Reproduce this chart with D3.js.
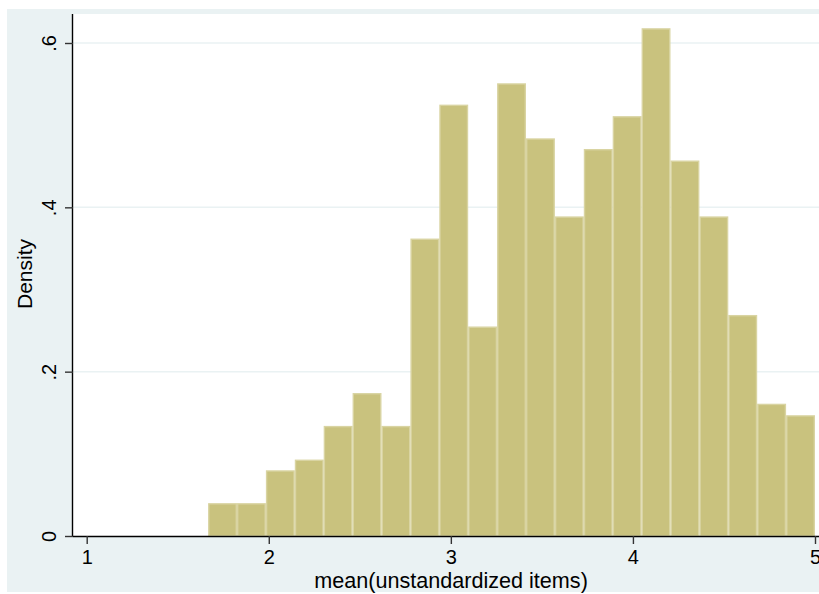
<!DOCTYPE html>
<html>
<head>
<meta charset="utf-8">
<script src="https://cdn.jsdelivr.net/npm/d3@7"></script>
<style>
  html, body { margin: 0; padding: 0; background: #ffffff; }
  svg { display: block; }
  text { font-family: "Liberation Sans", Arial, sans-serif; fill: #000; }
</style>
</head>
<body>
<svg id="chart" width="819" height="594"></svg>
<script>
// Histogram data: 21 bins from 1.6667 to 5
const binStart = 1.6667;
const binEnd = 5;
const densities = [0.040, 0.040, 0.080, 0.093, 0.134, 0.174, 0.134, 0.362, 0.525, 0.255,
                   0.551, 0.484, 0.389, 0.471, 0.511, 0.618, 0.457, 0.389, 0.269, 0.161, 0.147];
const xTicks = [1, 2, 3, 4, 5];
const yTicks = [0, 0.2, 0.4, 0.6];
const yTickLabels = ["0", ".2", ".4", ".6"];
const xTitle = "mean(unstandardized items)";
const yTitle = "Density";

const svg = d3.select("#chart");
const W = 819, H = 594;

// outer graph background
svg.append("rect").attr("x", 7).attr("y", 9).attr("width", W - 7).attr("height", 583)
  .attr("fill", "#eaf2f3");

// plot region
const plot = { left: 73, right: 819, top: 14, bottom: 536 };
svg.append("rect").attr("x", plot.left).attr("y", plot.top)
  .attr("width", plot.right - plot.left).attr("height", plot.bottom - plot.top)
  .attr("fill", "#ffffff");

const x = d3.scaleLinear().domain([1, 5]).range([86.7, 815]);
const y = d3.scaleLinear().domain([0, 0.6]).range([536, 43]);

// gridlines
svg.append("g").selectAll("line").data(yTicks.filter(d => d > 0)).join("line")
  .attr("x1", plot.left).attr("x2", plot.right)
  .attr("y1", d => y(d)).attr("y2", d => y(d))
  .attr("stroke", "#eaf2f3").attr("stroke-width", 1.5);

// bars
const n = densities.length;
const w = (binEnd - binStart) / n;
const bins = densities.map((d, i) => ({ x0: binStart + i * w, x1: binStart + (i + 1) * w, v: d }));
svg.append("g").selectAll("rect").data(bins).join("rect")
  .attr("x", d => x(d.x0) + 0.7)
  .attr("width", d => x(d.x1) - x(d.x0) - 1.4)
  .attr("y", d => y(d.v) + 0.7)
  .attr("height", d => y(0) - y(d.v) - 0.7)
  .attr("fill", "#c9c27e")
  .attr("stroke", "#d9d4a2")
  .attr("stroke-width", 1.4);

// axes
const xAxis = d3.axisBottom(x).tickValues(xTicks).tickSize(8).tickPadding(6).tickFormat(d3.format("d"));
const gx = svg.append("g").attr("transform", `translate(0,${plot.bottom})`).call(xAxis);
gx.select(".domain").attr("d", `M${plot.left},0.5H${plot.right}`).attr("stroke", "#000").attr("stroke-width", 1.4);
gx.selectAll(".tick line").attr("stroke", "#333").attr("stroke-width", 1.4);
gx.selectAll(".tick text").attr("font-size", 20).attr("font-family", "Liberation Sans, Arial, sans-serif")
  .attr("fill", "#000").attr("dy", "0.72em");

const yAxis = d3.axisLeft(y).tickValues(yTicks).tickSize(8).tickPadding(6)
  .tickFormat((d, i) => yTickLabels[i]);
const gy = svg.append("g").attr("transform", `translate(${plot.left},0)`).call(yAxis);
gy.select(".domain").attr("d", `M-0.5,${plot.top}V${plot.bottom}`).attr("stroke", "#000").attr("stroke-width", 1.4);
gy.selectAll(".tick line").attr("stroke", "#333").attr("stroke-width", 1.4);
gy.selectAll(".tick text").attr("font-size", 20).attr("font-family", "Liberation Sans, Arial, sans-serif")
  .attr("fill", "#000")
  .attr("text-anchor", "middle")
  .attr("x", null).attr("dy", null)
  .attr("transform", "translate(-17,0) rotate(-90)");

// titles
svg.append("text").attr("x", 451).attr("y", 588).attr("text-anchor", "middle")
  .attr("font-size", 21.6).text(xTitle);
svg.append("text").attr("transform", "translate(32,274) rotate(-90)").attr("text-anchor", "middle")
  .attr("font-size", 21).text(yTitle);
</script>
</body>
</html>
